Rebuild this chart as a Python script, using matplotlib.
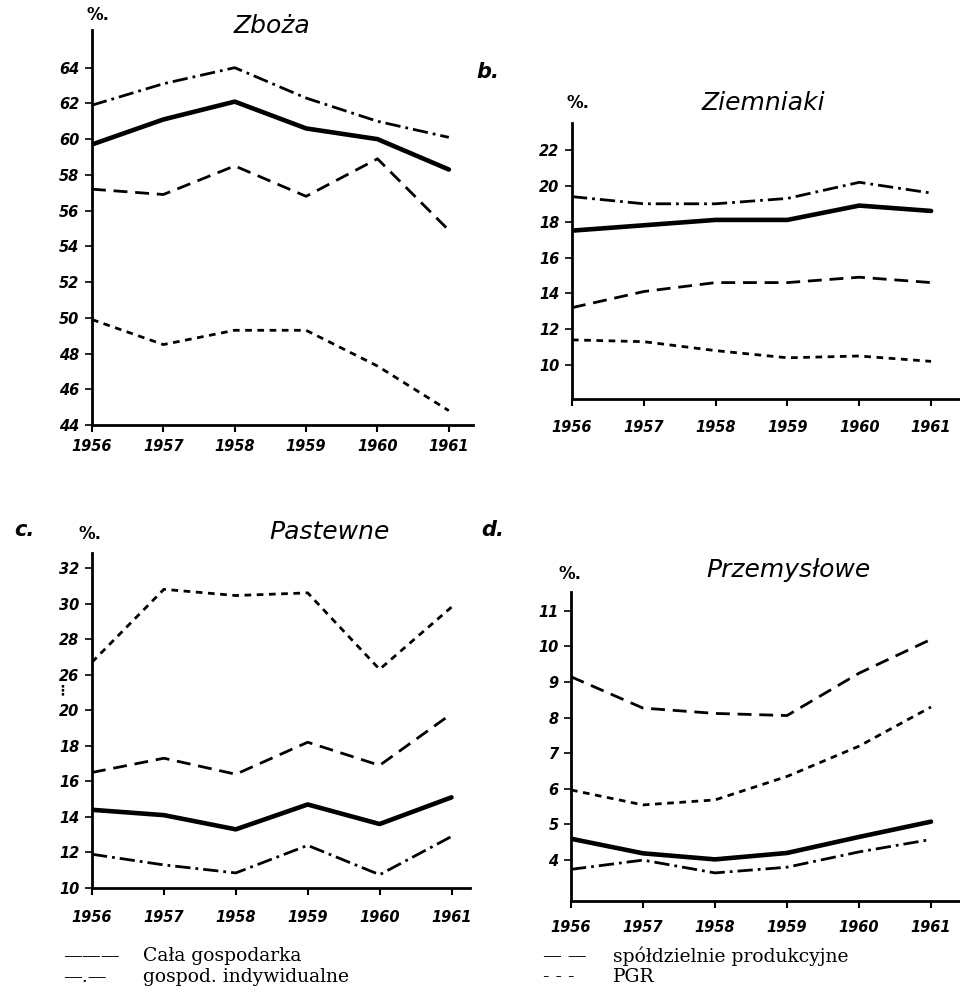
import numpy as np
import matplotlib.pyplot as plt

# years and values
years = [1956, 1957, 1958, 1959, 1960, 1961]

# a. Zboża
zb_cala = [59.7, 61.1, 62.1, 60.6, 60.0, 58.3]
zb_indyw = [61.9, 63.1, 64.0, 62.3, 61.0, 60.1]
zb_spold = [57.2, 56.9, 58.5, 56.8, 58.9, 54.9]
zb_pgr = [49.9, 48.5, 49.3, 49.3, 47.3, 44.8]

# b. Ziemniaki
zi_cala = [17.5, 17.8, 18.1, 18.1, 18.9, 18.6]
zi_indyw = [19.4, 19.0, 19.0, 19.3, 20.2, 19.6]
zi_spold = [13.2, 14.1, 14.6, 14.6, 14.9, 14.6]
zi_pgr = [11.4, 11.3, 10.8, 10.4, 10.5, 10.2]

# c. Pastewne (broken axis between 20 and 26)
pa_cala = [14.4, 14.1, 13.3, 14.7, 13.6, 15.1]
pa_indyw = [11.9, 11.3, 10.85, 12.4, 10.75, 12.9]
pa_spold = [16.5, 17.3, 16.4, 18.2, 16.9, 19.8]
pa_pgr = [26.7, 30.8, 30.45, 30.6, 26.3, 29.8]

# d. Przemysłowe
pr_cala = [4.6, 4.19, 4.02, 4.2, 4.65, 5.08]
pr_indyw = [3.74, 4.0, 3.64, 3.8, 4.23, 4.58]
pr_spold = [9.15, 8.27, 8.12, 8.06, 9.25, 10.2]
pr_pgr = [5.97, 5.55, 5.69, 6.35, 7.2, 8.3]

ticks_a = [44, 46, 48, 50, 52, 54, 56, 58, 60, 62, 64]
ticks_b = [10, 12, 14, 16, 18, 20, 22]
ticks_c = [10, 12, 14, 16, 18, 20, 26, 28, 30, 32]
ticks_d = [4, 5, 6, 7, 8, 9, 10, 11]

legend_marks = ['———', '—.—', '— —', '- - -']
legend_names = ['Cała gospodarka', 'gospod. indywidualne',
                'spółdzielnie produkcyjne', 'PGR']

tick_font = dict(family='DejaVu Sans', style='italic', weight='bold', size=10.5)
title_font = dict(family='DejaVu Sans', style='italic', size=18)

# line styles: solid thick, dash-dot, long dash, short dash
styles = [
    dict(color='black', lw=3.3, solid_capstyle='round'),
    dict(color='black', lw=2, dashes=(5.5, 1.8, 1, 1.8)),
    dict(color='black', lw=2, dashes=(5, 2.8)),
    dict(color='black', lw=2, dashes=(2.4, 2.0)),
]


def fwd(v):
    v = np.asarray(v, dtype=float)
    return np.where(v <= 21, v, np.where(v <= 26, 21 + (v - 21) * 0.2, v - 4))


def inv(p):
    p = np.asarray(p, dtype=float)
    return np.where(p <= 21, p, np.where(p <= 22, 21 + (p - 21) * 5, p + 4))


def setup(ax, yticks, ylim, xright, xpad):
    for s in ['top', 'right']:
        ax.spines[s].set_visible(False)
    for s in ['left', 'bottom']:
        ax.spines[s].set_linewidth(2)
    ax.set_xlim(1956, xright)
    ax.set_ylim(*ylim)
    ax.set_xticks(years)
    ax.set_yticks(yticks)
    ax.set_xticklabels([str(y) for y in years], fontdict=tick_font)
    ax.set_yticklabels([str(t) for t in yticks], fontdict=tick_font)
    ax.tick_params(axis='x', length=5, width=1.5, pad=xpad)
    ax.tick_params(axis='y', length=5, width=1.2, pad=4)
    ax.patch.set_alpha(0)


fig = plt.figure(figsize=(9.6, 9.92), dpi=100)

# panel a
ax_a = fig.add_axes([0.0958, 0.5716, 0.397, 0.398])
for vals, st in zip([zb_cala, zb_indyw, zb_spold, zb_pgr], styles):
    ax_a.plot(years, vals, **st)
setup(ax_a, ticks_a, (44, 66.1), 1961.34, 5)
fig.text(272 / 960, 1 - 26 / 992, 'Zboża', ha='center', va='center', **title_font)
fig.text(98 / 960, 1 - 15 / 992, '%.', ha='center', va='center', size=12, weight='bold')

# panel b
ax_b = fig.add_axes([0.5958, 0.5978, 0.404, 0.278])
for vals, st in zip([zi_cala, zi_indyw, zi_spold, zi_pgr], styles):
    ax_b.plot(years, vals, **st)
setup(ax_b, ticks_b, (8.1, 23.5), 1961.4, 10)
fig.text(763 / 960, 1 - 103 / 992, 'Ziemniaki', ha='center', va='center', **title_font)
fig.text(578 / 960, 1 - 103 / 992, '%.', ha='center', va='center', size=12, weight='bold')
fig.text(476 / 960, 1 - 72 / 992, 'b.', ha='left', va='center', size=15, style='italic', weight='bold')

# panel c
ax_c = fig.add_axes([0.0958, 0.1048, 0.394, 0.3377])
ax_c.set_yscale('function', functions=(fwd, inv))
for vals, st in zip([pa_cala, pa_indyw, pa_spold, pa_pgr], styles):
    ax_c.plot(years, vals, **st)
setup(ax_c, ticks_c, (10, 32.84), 1961.26, 11)
ax_c.text(-0.08, 21.6, '⋮', transform=ax_c.get_yaxis_transform(), ha='center', va='center',
          size=10, weight='bold')
fig.text(330 / 960, 1 - 532 / 992, 'Pastewne', ha='center', va='center', **title_font)
fig.text(90 / 960, 1 - 534 / 992, '%.', ha='center', va='center', size=12, weight='bold')
fig.text(14 / 960, 1 - 530 / 992, 'c.', ha='left', va='center', size=15, style='italic', weight='bold')

# panel d
ax_d = fig.add_axes([0.5948, 0.0917, 0.405, 0.3115])
for vals, st in zip([pr_cala, pr_indyw, pr_spold, pr_pgr], styles):
    ax_d.plot(years, vals, **st)
setup(ax_d, ticks_d, (2.85, 11.53), 1961.4, 9)
fig.text(788 / 960, 1 - 570 / 992, 'Przemysłowe', ha='center', va='center', **title_font)
fig.text(570 / 960, 1 - 574 / 992, '%.', ha='center', va='center', size=12, weight='bold')
fig.text(481 / 960, 1 - 530 / 992, 'd.', ha='left', va='center', size=15, style='italic', weight='bold')

# legend as plain text lines at the bottom
leg_font = dict(family='DejaVu Serif', size=13.5, va='center', ha='left')
mark_x = [63, 63, 543, 543]
name_x = [143, 143, 613, 613]
row_y = [956, 977, 956, 977]
for mk, nm, mx, nx, ry in zip(legend_marks, legend_names, mark_x, name_x, row_y):
    fig.text(mx / 960, 1 - ry / 992, mk, **leg_font)
    fig.text(nx / 960, 1 - ry / 992, nm, **leg_font)

plt.savefig('out.png', dpi=100)
plt.close()
